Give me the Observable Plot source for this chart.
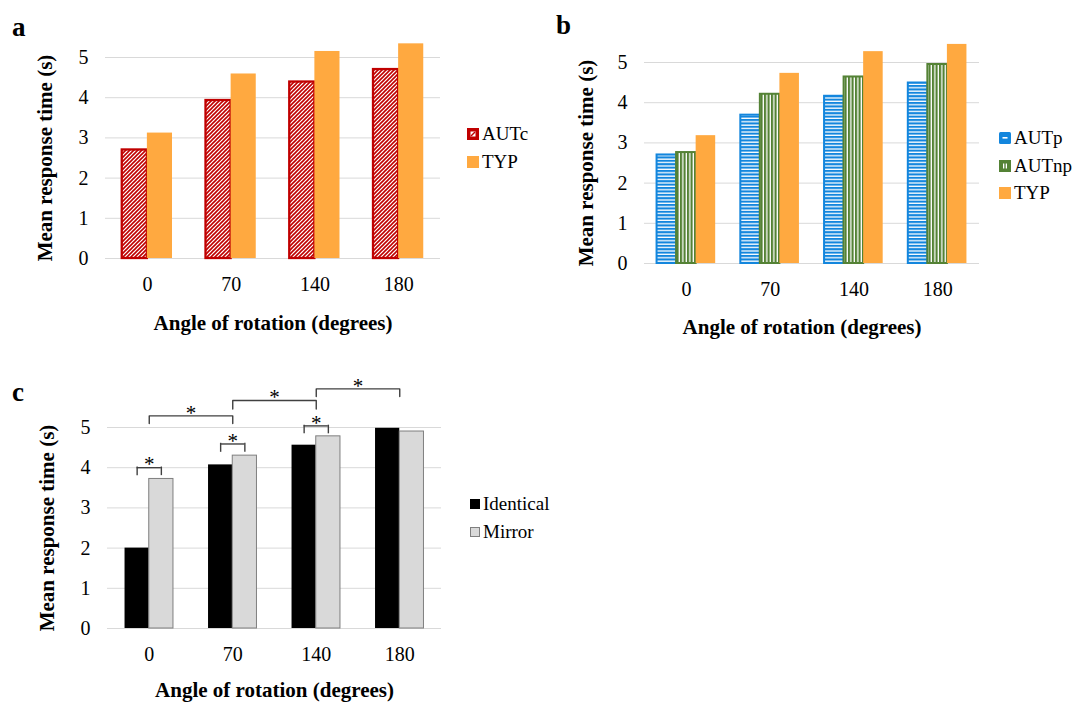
<!DOCTYPE html>
<html><head><meta charset="utf-8">
<script src="https://cdn.jsdelivr.net/npm/d3@7"></script>
<script src="https://cdn.jsdelivr.net/npm/@observablehq/plot@0.6"></script>
<style>
body{margin:0;background:#fff;}
#root{position:relative;width:1073px;height:705px;overflow:hidden;font-family:"Liberation Serif","Times New Roman",serif;color:#000;}
.panel{position:absolute;}
.letter{position:absolute;font-weight:bold;font-size:27px;line-height:1;}
.leg{position:absolute;display:flex;align-items:center;height:20px;font-size:19px;line-height:20px;white-space:nowrap;}
.leg svg{margin-right:3px;display:block;}
</style></head><body>
<svg width="0" height="0" style="position:absolute">
<defs>
<pattern id="hatchRed" patternUnits="userSpaceOnUse" width="4" height="4">
<rect width="4" height="4" fill="#fff"/>
<path d="M-1,1 l2,-2 M0,4 l4,-4 M3,5 l2,-2" stroke="#C00000" stroke-width="1.6"/>
</pattern>
<pattern id="hStripeBlue" patternUnits="userSpaceOnUse" width="4" height="3.4">
<rect width="4" height="3.4" fill="#fff"/>
<rect width="4" height="2.1" fill="#1386DD"/>
</pattern>
<pattern id="vStripeGreen" patternUnits="userSpaceOnUse" width="3.5" height="4">
<rect width="3.5" height="4" fill="#fff"/>
<rect width="2.2" height="4" fill="#548235"/>
</pattern>
</defs>
</svg>
<div id="root"></div>
<script>
// ---------- data ----------
const angles = ["0", "70", "140", "180"];
const yTicks = [0, 1, 2, 3, 4, 5];
// panel a
const autcA = [2.70, 3.93, 4.39, 4.70];
const typA = [3.12, 4.59, 5.15, 5.34];
// panel b
const autpB = [2.70, 3.69, 4.16, 4.49];
const autnpB = [2.76, 4.21, 4.64, 4.95];
const typB = [3.18, 4.73, 5.27, 5.45];
// panel c
const identicalC = [2.00, 4.07, 4.56, 4.98];
const mirrorC = [3.72, 4.30, 4.78, 4.90];
const pairBrackets = [
  {angle: "0", top: 4.00, leg: 3.82},
  {angle: "70", top: 4.59, leg: 4.40},
  {angle: "140", top: 5.04, leg: 4.86}
];
const crossBrackets = [
  {from: "0", to: "70", top: 5.29, leg: 5.10},
  {from: "70", to: "140", top: 5.67, leg: 5.46},
  {from: "140", to: "180", top: 5.96, leg: 5.77}
];
const xTitle = "Angle of rotation (degrees)";
const yTitle = "Mean response time (s)";

// ---------- helpers ----------
const FONT = "Liberation Serif, Times New Roman, serif";
const rows = vals => angles.map((a, i) => ({angle: a, value: vals[i]}));
function band(W, n, pi, po) { const step = W / (n - pi + 2 * po); return {step, bw: step * (1 - pi)}; }
const root = document.getElementById("root");
function place(el, left, top) { el.classList.add("panel"); el.style.left = left + "px"; el.style.top = top + "px"; root.appendChild(el); }
function letter(t, left, top) { const d = document.createElement("div"); d.className = "letter"; d.textContent = t; d.style.left = left + "px"; d.style.top = top + "px"; root.appendChild(d); }
function legendItem(swatch, label, left, cy) {
  const d = document.createElement("div"); d.className = "leg";
  d.style.left = left + "px"; d.style.top = (cy - 10) + "px";
  d.innerHTML = swatch + "<span>" + label + "</span>"; root.appendChild(d);
}
function common(W, H, m, pi, po) {
  return {
    width: W, height: H, marginLeft: m.l, marginRight: m.r, marginTop: m.t, marginBottom: m.b,
    x: {type: "band", domain: angles, paddingInner: pi, paddingOuter: po, round: false},
    y: {domain: [0, 5]},
    style: {fontFamily: FONT, fontSize: "20px", color: "#000", background: "transparent", overflow: "visible"}
  };
}
function axes(ydx, xdx, xdy) {
  return [
    Plot.axisX({tickSize: 0, tickPadding: 18, label: null, fontSize: 20}),
    Plot.axisY(yTicks, {tickSize: 0, tickPadding: 17, label: null, fontSize: 20}),
    Plot.text([yTitle], {text: d => d, frameAnchor: "left", textAnchor: "middle", lineAnchor: "middle", rotate: -90, dx: ydx, fontSize: 21, fontWeight: "bold"}),
    Plot.text([xTitle], {text: d => d, frameAnchor: "bottom", textAnchor: "middle", lineAnchor: "middle", dx: xdx, dy: xdy, fontSize: 21, fontWeight: "bold"})
  ];
}

// ---------- panel a ----------
{
  const W = 450, H = 345, m = {l: 105, r: 10, t: 57, b: 87}, pi = 0.4, po = 0.2;
  const {bw} = band(W - m.l - m.r, angles.length, pi, po);
  const p = Plot.plot({...common(W, H, m, pi, po), marks: [
    Plot.ruleY(yTicks, {stroke: "#d9d9d9", strokeWidth: 1}),
    Plot.barY(rows(autcA), {x: "angle", y: "value", fill: "url(#hatchRed)", stroke: "#C00000", strokeWidth: 2.3, insetRight: bw / 2}),
    Plot.barY(rows(typA), {x: "angle", y: "value", fill: "#FFA940", insetLeft: bw / 2}),
    ...axes(-60, 0, 65)
  ]});
  place(p, 0, 0);
  letter("a", 12, 14);
  legendItem('<svg width="12" height="12"><rect width="12" height="12" fill="#C00000"/><rect x="3.5" y="3.5" width="5" height="5" fill="#fff"/><path d="M4,8 L8,4" stroke="#C00000" stroke-width="1.4"/></svg>', "AUTc", 467, 134);
  legendItem('<svg width="12" height="12"><rect width="12" height="12" fill="#FFA940"/></svg>', "TYP", 467, 162);
}

// ---------- panel b ----------
{
  const W = 450, H = 350, m = {l: 104, r: 11, t: 62, b: 87}, pi = 0.3, po = 0.15;
  const {bw} = band(W - m.l - m.r, angles.length, pi, po);
  const p = Plot.plot({...common(W, H, m, pi, po), marks: [
    Plot.ruleY(yTicks, {stroke: "#d9d9d9", strokeWidth: 1}),
    Plot.barY(rows(autpB), {x: "angle", y: "value", fill: "url(#hStripeBlue)", stroke: "#1386DD", strokeWidth: 2, insetRight: 2 * bw / 3}),
    Plot.barY(rows(autnpB), {x: "angle", y: "value", fill: "url(#vStripeGreen)", stroke: "#548235", strokeWidth: 2, insetLeft: bw / 3, insetRight: bw / 3}),
    Plot.barY(rows(typB), {x: "angle", y: "value", fill: "#FFA940", insetLeft: 2 * bw / 3}),
    ...axes(-58, -10, 64)
  ]});
  place(p, 540, 0);
  letter("b", 556, 12);
  legendItem('<svg width="12" height="12"><rect width="12" height="12" rx="1.5" fill="#1386DD"/><rect x="3.5" y="5" width="5" height="1.6" fill="#fff"/></svg>', "AUTp", 999, 138);
  legendItem('<svg width="12" height="12"><rect width="12" height="12" fill="#548235"/><rect x="4" y="3.5" width="1.3" height="5" fill="#fff"/><rect x="6.7" y="3.5" width="1.3" height="5" fill="#fff"/></svg>', "AUTnp", 999, 166);
  legendItem('<svg width="12" height="12"><rect width="12" height="12" fill="#FFA940"/></svg>', "TYP", 999, 193);
}

// ---------- panel c ----------
{
  const W = 450, H = 335, m = {l: 107, r: 9, t: 57, b: 77}, pi = 0.42, po = 0.21;
  const {bw, step} = band(W - m.l - m.r, angles.length, pi, po);
  const crossPts = crossBrackets.flatMap((b, i) => [
    {id: i, x: b.from, y: b.leg}, {id: i, x: b.from, y: b.top},
    {id: i, x: b.to, y: b.top}, {id: i, x: b.to, y: b.leg}
  ]);
  const bs = {stroke: "#404040", strokeWidth: 1.4};
  const p = Plot.plot({...common(W, H, m, pi, po), marks: [
    Plot.ruleY(yTicks, {stroke: "#d9d9d9", strokeWidth: 1}),
    Plot.barY(rows(identicalC), {x: "angle", y: "value", fill: "#000", insetRight: bw / 2}),
    Plot.barY(rows(mirrorC), {x: "angle", y: "value", fill: "#D9D9D9", stroke: "#7F7F7F", strokeWidth: 1, insetLeft: bw / 2}),
    Plot.ruleX(pairBrackets, {x: "angle", y1: "leg", y2: "top", dx: -bw / 4, ...bs, strokeLinecap: "square"}),
    Plot.ruleX(pairBrackets, {x: "angle", y1: "leg", y2: "top", dx: bw / 4, ...bs, strokeLinecap: "square"}),
    Plot.tickY(pairBrackets, {x: "angle", y: "top", insetLeft: bw / 4, insetRight: bw / 4, ...bs}),
    Plot.line(crossPts, {x: "x", y: "y", z: "id", ...bs}),
    Plot.text(pairBrackets, {x: "angle", y: "top", text: () => "*", dy: -3, fontSize: 21}),
    Plot.text(crossBrackets, {x: "from", y: "top", text: () => "*", dx: step / 2, dy: -3, fontSize: 21}),
    ...axes(-60, 0, 62)
  ]});
  place(p, 0, 370);
  letter("c", 12, 379);
  legendItem('<svg width="10" height="10"><rect width="10" height="10" fill="#000"/></svg>', "Identical", 470, 504);
  legendItem('<svg width="10" height="10"><rect x="0.5" y="0.5" width="9" height="9" fill="#D9D9D9" stroke="#7F7F7F" stroke-width="1"/></svg>', "Mirror", 470, 532);
}
</script>
</body></html>
